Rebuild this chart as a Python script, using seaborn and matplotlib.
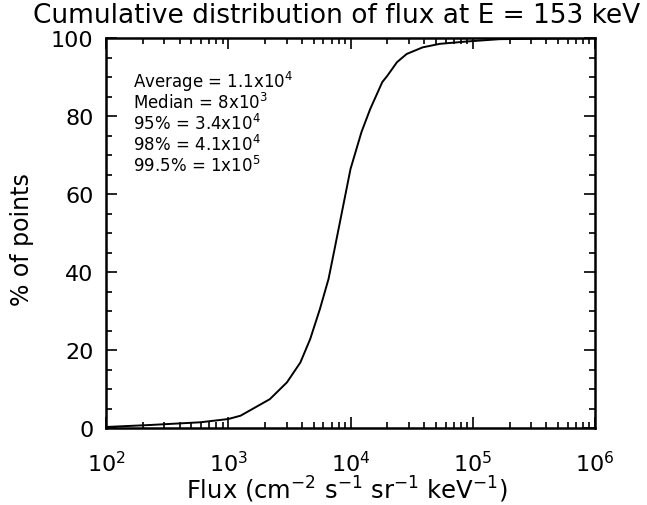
import numpy as np
import pandas as pd
import matplotlib
matplotlib.use("Agg")
import matplotlib.pyplot as plt
import seaborn as sns
from matplotlib.ticker import LogLocator, MultipleLocator, NullFormatter

# Data
flux = [100, 229, 589, 1000, 1260, 2190, 3020, 3890, 4680, 5620, 6610, 7410,
        10000, 12300, 14500, 18200, 20000, 24000, 28800, 38900, 53700, 89100,
        166000, 309000, 1000000]
percent = [0.26, 0.77, 1.46, 2.3, 3.15, 7.4, 11.7, 16.8, 22.8, 30.5, 38.2, 45.9,
           66.4, 75.9, 81.8, 88.7, 90.3, 93.8, 95.9, 97.6, 98.5, 99.1,
           99.7, 99.8, 100.0]
stats_lines = [r"Average = 1.1x10$^4$", r"Median = 8x10$^3$", r"95% = 3.4x10$^4$",
               r"98% = 4.1x10$^4$", r"99.5% = 1x10$^5$"]
title = "Cumulative distribution of flux at E = 153 keV"
xlabel = r"Flux (cm$^{-2}$ s$^{-1}$ sr$^{-1}$ keV$^{-1}$)"
ylabel = "% of points"
y_ticks = [0, 20, 40, 60, 80, 100]

sns.set_style("ticks")
plt.rcParams['font.family'] = ['DejaVu Sans']
plt.rcParams['mathtext.default'] = 'regular'
plt.rcParams['text.color'] = 'black'

df = pd.DataFrame({"flux": flux, "percent": percent})

W, H = 647, 506
fig = plt.figure(figsize=(W / 100, H / 100), dpi=100)
ax = fig.add_axes([106 / W, 1 - 429 / H, (595 - 106) / W, (429 - 39) / H])

sns.lineplot(data=df, x="flux", y="percent", ax=ax, color="black", linewidth=1.4)

ax.set_xscale("log")
ax.set_xlim(1e2, 1e6)
ax.set_ylim(0, 100)
ax.xaxis.set_major_locator(LogLocator(base=10, numticks=10))
ax.xaxis.set_minor_locator(LogLocator(base=10, subs=np.arange(2, 10), numticks=20))
ax.xaxis.set_minor_formatter(NullFormatter())
ax.set_yticks(y_ticks)
ax.yaxis.set_minor_locator(MultipleLocator(5))

ax.tick_params(which="both", direction="in", top=True, right=True, width=1.2, colors="black")
ax.tick_params(which="major", length=8)
ax.tick_params(which="minor", length=4)
ax.tick_params(axis="x", which="major", labelsize=16, pad=16)
ax.tick_params(axis="y", which="major", labelsize=16, pad=9)
for s in ax.spines.values():
    s.set_linewidth(1.8)
    s.set_color("black")

ax.set_xlabel("")
ax.set_ylabel("")
fig.text(347 / W, 1 - 490 / H, xlabel, ha="center", va="center", fontsize=17.5, color="black")
fig.text(22 / W, 1 - 240 / H, ylabel, ha="center", va="center", rotation=90, fontsize=17, color="black")
fig.text(337 / W, 1 - 16 / H, title, ha="center", va="center", fontsize=19, color="black")

y0 = 82
for i, line in enumerate(stats_lines):
    fig.text(133 / W, 1 - (y0 + 21 * i) / H, line, ha="left", va="center", fontsize=12, color="black")

fig.savefig("out.png", dpi=100)
